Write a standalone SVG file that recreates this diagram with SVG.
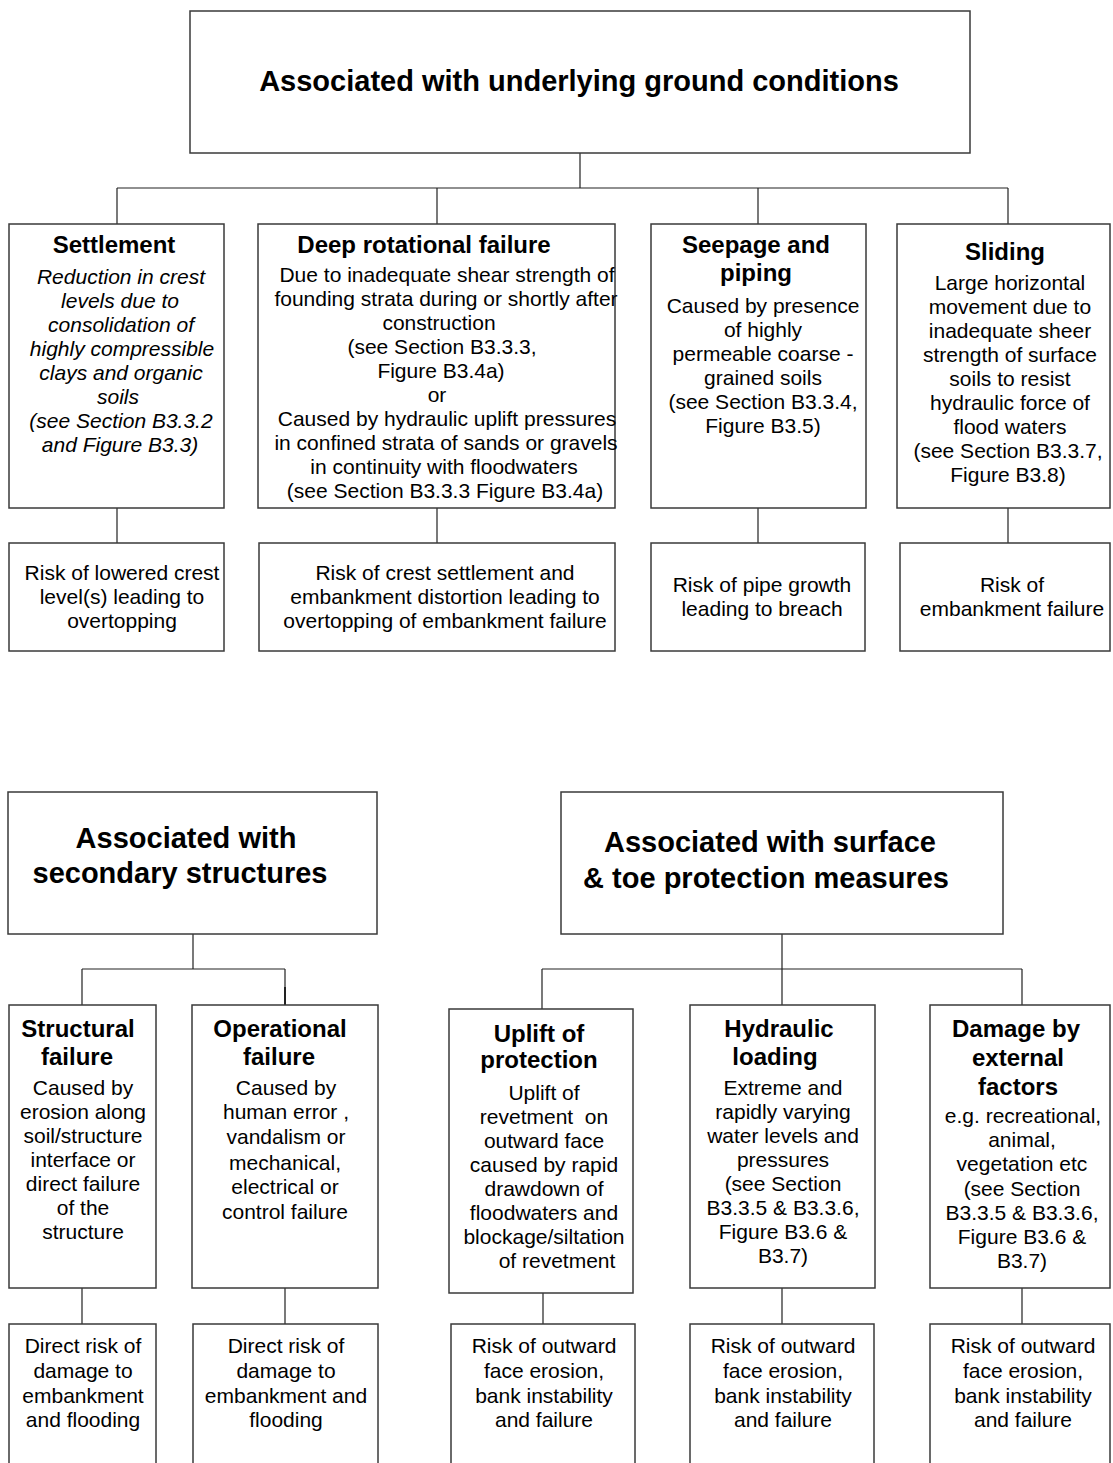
<svg xmlns="http://www.w3.org/2000/svg" width="1113" height="1463" viewBox="0 0 1113 1463">
<style>
.box{fill:#fff;stroke:#3a3a3a;stroke-width:1.5}
.conn{fill:none;stroke:#222;stroke-width:1.2}
text{font-family:"Liberation Sans",Arial,Helvetica,sans-serif;text-anchor:middle;fill:#000}
.title{font-size:29px;font-weight:bold}
.h{font-size:24px;font-weight:bold}
.b{font-size:21px}
.i{font-style:italic}
</style>
<rect width="1113" height="1463" fill="#fff"/>
<g id="connectors">
<path class="conn" d="M580,153V188M117,188H1008M117,188V224M437,188V224M758,188V224M1008,188V224"/>
<path class="conn" d="M117,508V543M437,508V543M758,508V543M1008,508V543"/>
<path class="conn" d="M193,934V969M82,969H285M82,969V1005M285,969V1005"/>
<path d="M285,987V1005" stroke="#222" stroke-width="2"/>
<path class="conn" d="M782,934V969M542,969H1022M542,969V1009M782,969V1005M1022,969V1005"/>
<path class="conn" d="M82,1288V1324M285,1288V1324M543,1293V1324M782,1288V1324M1022,1288V1324"/>
</g>
<g id="n-ground">
<rect class="box" x="190" y="11" width="780" height="142"/>
<text class="title" x="579" y="91">Associated with underlying ground conditions</text>
</g>
<g id="n-settlement">
<rect class="box" x="9" y="224" width="215" height="284"/>
<text class="h" x="114" y="253">Settlement</text>
<text class="b i" x="120"><tspan x="121" y="284">Reduction in crest</tspan><tspan x="120" y="308">levels due to</tspan><tspan x="121" y="332">consolidation of</tspan><tspan x="122" y="356">highly compressible</tspan><tspan x="121" y="380">clays and organic</tspan><tspan x="118" y="404">soils</tspan><tspan x="121" y="428">(see Section B3.3.2</tspan><tspan x="120" y="452">and Figure B3.3)</tspan></text>
</g>
<g id="n-deep">
<rect class="box" x="258" y="224" width="357" height="284"/>
<text class="h" x="424" y="253">Deep rotational failure</text>
<text class="b"><tspan x="447" y="282">Due to inadequate shear strength of</tspan><tspan x="446" y="306">founding strata during or shortly after</tspan><tspan x="439" y="330">construction</tspan><tspan x="442" y="354">(see Section B3.3.3,</tspan><tspan x="441" y="378">Figure B3.4a)</tspan><tspan x="437" y="402">or</tspan><tspan x="447" y="426">Caused by hydraulic uplift pressures</tspan><tspan x="446" y="450">in confined strata of sands or gravels</tspan><tspan x="444" y="474">in continuity with floodwaters</tspan><tspan x="445" y="498">(see Section B3.3.3 Figure B3.4a)</tspan></text>
</g>
<g id="n-seepage">
<rect class="box" x="651" y="224" width="215" height="284"/>
<text class="h"><tspan x="756" y="253">Seepage and</tspan><tspan x="756" y="281">piping</tspan></text>
<text class="b"><tspan x="763" y="313">Caused by presence</tspan><tspan x="763" y="337">of highly</tspan><tspan x="763" y="361">permeable coarse -</tspan><tspan x="763" y="385">grained soils</tspan><tspan x="763" y="409">(see Section B3.3.4,</tspan><tspan x="763" y="433">Figure B3.5)</tspan></text>
</g>
<g id="n-sliding">
<rect class="box" x="897" y="224" width="213" height="284"/>
<text class="h" x="1005" y="260">Sliding</text>
<text class="b"><tspan x="1010" y="290">Large horizontal</tspan><tspan x="1010" y="314">movement due to</tspan><tspan x="1010" y="338">inadequate sheer</tspan><tspan x="1010" y="362">strength of surface</tspan><tspan x="1010" y="386">soils to resist</tspan><tspan x="1010" y="410">hydraulic force of</tspan><tspan x="1010" y="434">flood waters</tspan><tspan x="1008" y="458">(see Section B3.3.7,</tspan><tspan x="1008" y="482">Figure B3.8)</tspan></text>
</g>
<g id="n-risk1">
<rect class="box" x="9" y="543" width="215" height="108"/>
<text class="b"><tspan x="122" y="580">Risk of lowered crest</tspan><tspan x="122" y="604">level(s) leading to</tspan><tspan x="122" y="628">overtopping</tspan></text>
</g>
<g id="n-risk2">
<rect class="box" x="259" y="543" width="356" height="108"/>
<text class="b"><tspan x="445" y="580">Risk of crest settlement and</tspan><tspan x="445" y="604">embankment distortion leading to</tspan><tspan x="445" y="628">overtopping of embankment failure</tspan></text>
</g>
<g id="n-risk3">
<rect class="box" x="651" y="543" width="214" height="108"/>
<text class="b"><tspan x="762" y="592">Risk of pipe growth</tspan><tspan x="762" y="616">leading to breach</tspan></text>
</g>
<g id="n-risk4">
<rect class="box" x="900" y="543" width="210" height="108"/>
<text class="b"><tspan x="1012" y="592">Risk of</tspan><tspan x="1012" y="616">embankment failure</tspan></text>
</g>
<g id="n-secondary">
<rect class="box" x="8" y="792" width="369" height="142"/>
<text class="title"><tspan x="186" y="848">Associated with</tspan><tspan x="180" y="883">secondary structures</tspan></text>
</g>
<g id="n-surface">
<rect class="box" x="561" y="792" width="442" height="142"/>
<text class="title"><tspan x="770" y="852">Associated with surface</tspan><tspan x="766" y="888">&amp; toe protection measures</tspan></text>
</g>
<g id="n-structural">
<rect class="box" x="9" y="1005" width="147" height="283"/>
<text class="h"><tspan x="78" y="1037">Structural</tspan><tspan x="77" y="1065">failure</tspan></text>
<text class="b"><tspan x="83" y="1095">Caused by</tspan><tspan x="83" y="1119">erosion along</tspan><tspan x="83" y="1143">soil/structure</tspan><tspan x="83" y="1167">interface or</tspan><tspan x="83" y="1191">direct failure</tspan><tspan x="83" y="1215">of the</tspan><tspan x="83" y="1239">structure</tspan></text>
</g>
<g id="n-operational">
<rect class="box" x="192" y="1005" width="186" height="283"/>
<text class="h"><tspan x="280" y="1037">Operational</tspan><tspan x="279" y="1065">failure</tspan></text>
<text class="b"><tspan x="286" y="1095">Caused by</tspan><tspan x="286" y="1119">human error ,</tspan><tspan x="286" y="1144">vandalism or</tspan><tspan x="285" y="1170">mechanical,</tspan><tspan x="285" y="1194">electrical or</tspan><tspan x="285" y="1219">control failure</tspan></text>
</g>
<g id="n-uplift">
<rect class="box" x="449" y="1009" width="184" height="284"/>
<text class="h"><tspan x="539" y="1042">Uplift of</tspan><tspan x="539" y="1068">protection</tspan></text>
<text class="b"><tspan x="544" y="1100">Uplift of</tspan><tspan x="544" y="1124">revetment&#160; on</tspan><tspan x="544" y="1148">outward face</tspan><tspan x="544" y="1172">caused by rapid</tspan><tspan x="544" y="1196">drawdown of</tspan><tspan x="544" y="1220">floodwaters and</tspan><tspan x="544" y="1244">blockage/siltation</tspan><tspan x="557" y="1268">of revetment</tspan></text>
</g>
<g id="n-hydraulic">
<rect class="box" x="690" y="1005" width="185" height="283"/>
<text class="h"><tspan x="779" y="1037">Hydraulic</tspan><tspan x="775" y="1065">loading</tspan></text>
<text class="b"><tspan x="783" y="1095">Extreme and</tspan><tspan x="783" y="1119">rapidly varying</tspan><tspan x="783" y="1143">water levels and</tspan><tspan x="783" y="1167">pressures</tspan><tspan x="783" y="1191">(see Section</tspan><tspan x="783" y="1215">B3.3.5 &amp; B3.3.6,</tspan><tspan x="783" y="1239">Figure B3.6 &amp;</tspan><tspan x="783" y="1263">B3.7)</tspan></text>
</g>
<g id="n-damage">
<rect class="box" x="930" y="1005" width="180" height="283"/>
<text class="h"><tspan x="1016" y="1037">Damage by</tspan><tspan x="1018" y="1066">external</tspan><tspan x="1018" y="1095">factors</tspan></text>
<text class="b"><tspan x="1023" y="1123">e.g. recreational,</tspan><tspan x="1022" y="1147">animal,</tspan><tspan x="1022" y="1171">vegetation etc</tspan><tspan x="1022" y="1196">(see Section</tspan><tspan x="1022" y="1220">B3.3.5 &amp; B3.3.6,</tspan><tspan x="1022" y="1244">Figure B3.6 &amp;</tspan><tspan x="1022" y="1268">B3.7)</tspan></text>
</g>
<g id="n-risk5">
<rect class="box" x="9" y="1324" width="147" height="150"/>
<text class="b"><tspan x="83" y="1353">Direct risk of</tspan><tspan x="83" y="1378">damage to</tspan><tspan x="83" y="1403">embankment</tspan><tspan x="83" y="1427">and flooding</tspan></text>
</g>
<g id="n-risk6">
<rect class="box" x="193" y="1324" width="185" height="150"/>
<text class="b"><tspan x="286" y="1353">Direct risk of</tspan><tspan x="286" y="1378">damage to</tspan><tspan x="286" y="1403">embankment and</tspan><tspan x="286" y="1427">flooding</tspan></text>
</g>
<g id="n-risk7">
<rect class="box" x="451" y="1324" width="184" height="150"/>
<text class="b"><tspan x="544" y="1353">Risk of outward</tspan><tspan x="544" y="1378">face erosion,</tspan><tspan x="544" y="1403">bank instability</tspan><tspan x="544" y="1427">and failure</tspan></text>
</g>
<g id="n-risk8">
<rect class="box" x="690" y="1324" width="184" height="150"/>
<text class="b"><tspan x="783" y="1353">Risk of outward</tspan><tspan x="783" y="1378">face erosion,</tspan><tspan x="783" y="1403">bank instability</tspan><tspan x="783" y="1427">and failure</tspan></text>
</g>
<g id="n-risk9">
<rect class="box" x="930" y="1324" width="180" height="150"/>
<text class="b"><tspan x="1023" y="1353">Risk of outward</tspan><tspan x="1023" y="1378">face erosion,</tspan><tspan x="1023" y="1403">bank instability</tspan><tspan x="1023" y="1427">and failure</tspan></text>
</g>
</svg>
